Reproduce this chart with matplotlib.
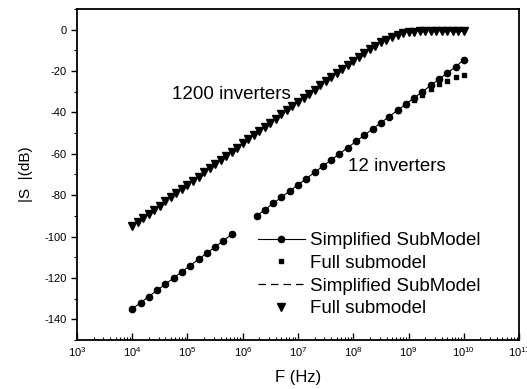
import numpy as np
import matplotlib
matplotlib.use("Agg")
import matplotlib.pyplot as plt
from matplotlib.ticker import LogLocator, MultipleLocator

plt.rcParams["font.family"] = ["Liberation Sans", "DejaVu Sans"]
plt.rcParams["mathtext.fontset"] = "custom"
plt.rcParams["mathtext.rm"] = "Liberation Sans"
plt.rcParams["mathtext.it"] = "Liberation Sans:italic"
plt.rcParams["axes.unicode_minus"] = False

# 1200 inverters : frequency sweep 1e4 .. 1e10 (10 pts/decade)
f_1200 = np.logspace(4, 10, 61)
full_1200_db = [-95, -93, -91, -89, -87, -85, -83, -81, -79, -77,
                -75, -73, -71, -69, -67, -65, -63, -61, -59, -57,
                -55, -53, -51, -49, -47, -45, -43, -41, -39, -37,
                -35, -33, -31, -29, -27, -25, -23, -21, -19, -17,
                -15, -13.2, -11.3, -9.5, -7.8, -6.2, -4.8, -3.5, -2.5, -1.8,
                -1.3, -1.0, -0.8, -0.7, -0.6, -0.6, -0.6, -0.6, -0.6, -0.7,
                -0.8]
sim_1200_db = list(full_1200_db)

# 12 inverters : two sweeps (gap between 6e5 and 1.8e6)
f_12_lo = np.logspace(4, 5.8, 13)
sim_12_lo_db = [-135, -132, -129, -126, -123, -120, -117, -114, -111, -108, -105, -102, -99]
full_12_lo_db = [-135, -132, -129, -126, -123, -120, -117, -114, -111, -108, -105, -102, -99]

f_12_hi = np.logspace(6.25, 10, 26)
sim_12_hi_db = [-90, -87, -84, -81, -78, -75, -72, -69, -66, -63,
                -60, -57, -54, -51, -48, -45, -42, -39, -36, -33,
                -30, -27, -24, -21, -18, -14.5]
full_12_hi_db = [-90, -87, -84, -81, -78, -75, -72, -69, -66, -63,
                 -60, -57, -54, -51, -48, -45, -42, -39.3, -36.5, -34,
                 -31.5, -28.8, -26.5, -24.6, -23, -21.8]

fig = plt.figure(figsize=(5.27, 3.89), dpi=100)
ax = fig.add_axes([0.146, 0.126, 0.839, 0.851])

# 12 inverters
l1, = ax.plot(f_12_lo, sim_12_lo_db, "-o", color="black", lw=0.8, ms=4.5,
              label="Simplified SubModel")
ax.plot(f_12_hi, sim_12_hi_db, "-o", color="black", lw=0.8, ms=4.5)
l2, = ax.plot(f_12_lo, full_12_lo_db, "s", color="black", ms=3.4,
              label="Full submodel")
ax.plot(f_12_hi, full_12_hi_db, "s", color="black", ms=3.4)

# 1200 inverters
l3, = ax.plot(f_1200, sim_1200_db, "--", color="black", lw=0.9, dashes=(6, 4),
              label="Simplified SubModel")
l4, = ax.plot(f_1200, full_1200_db, "v", color="black", ms=6,
              label="Full submodel")

ax.set_xscale("log")
ax.set_xlim(1e3, 1e11)
ax.set_ylim(-150, 10)
ax.xaxis.set_major_locator(LogLocator(base=10, numticks=20))
ax.xaxis.set_minor_locator(LogLocator(base=10, subs=np.arange(2, 10), numticks=20))
ax.yaxis.set_major_locator(MultipleLocator(20))
ax.yaxis.set_minor_locator(MultipleLocator(10))
ax.set_yticks(np.arange(-140, 1, 20))

ax.tick_params(axis="x", which="both", direction="in", top=False, labelsize=8, pad=4)
ax.tick_params(axis="x", which="major", length=5, width=1)
ax.tick_params(axis="x", which="minor", length=2.5, width=0.8)
ax.tick_params(axis="y", which="both", direction="out", right=False, labelsize=8)
ax.tick_params(axis="y", which="major", length=4, width=1)
ax.tick_params(axis="y", which="minor", length=2, width=0.8)
for sp in ax.spines.values():
    sp.set_linewidth(1.3)

ax.set_xlabel("F (Hz)", fontsize=12, labelpad=8)
ax.set_ylabel("|S  |(dB)", fontsize=11, labelpad=8)

ax.text(5.2e4, -31.5, "1200 inverters", fontsize=13.5, va="center")
ax.text(8e7, -66, "12 inverters", fontsize=13.5, va="center")

ax.legend(handles=[l1, l2, l3, l4], loc="upper left",
          bbox_to_anchor=(258 / 527, 1 - 232 / 389), bbox_transform=fig.transFigure,
          frameon=False, fontsize=13.5, handlelength=2.5, handletextpad=0.25,
          labelspacing=0.3, borderpad=0, borderaxespad=0, numpoints=1)

fig.savefig("out.png", dpi=100)
